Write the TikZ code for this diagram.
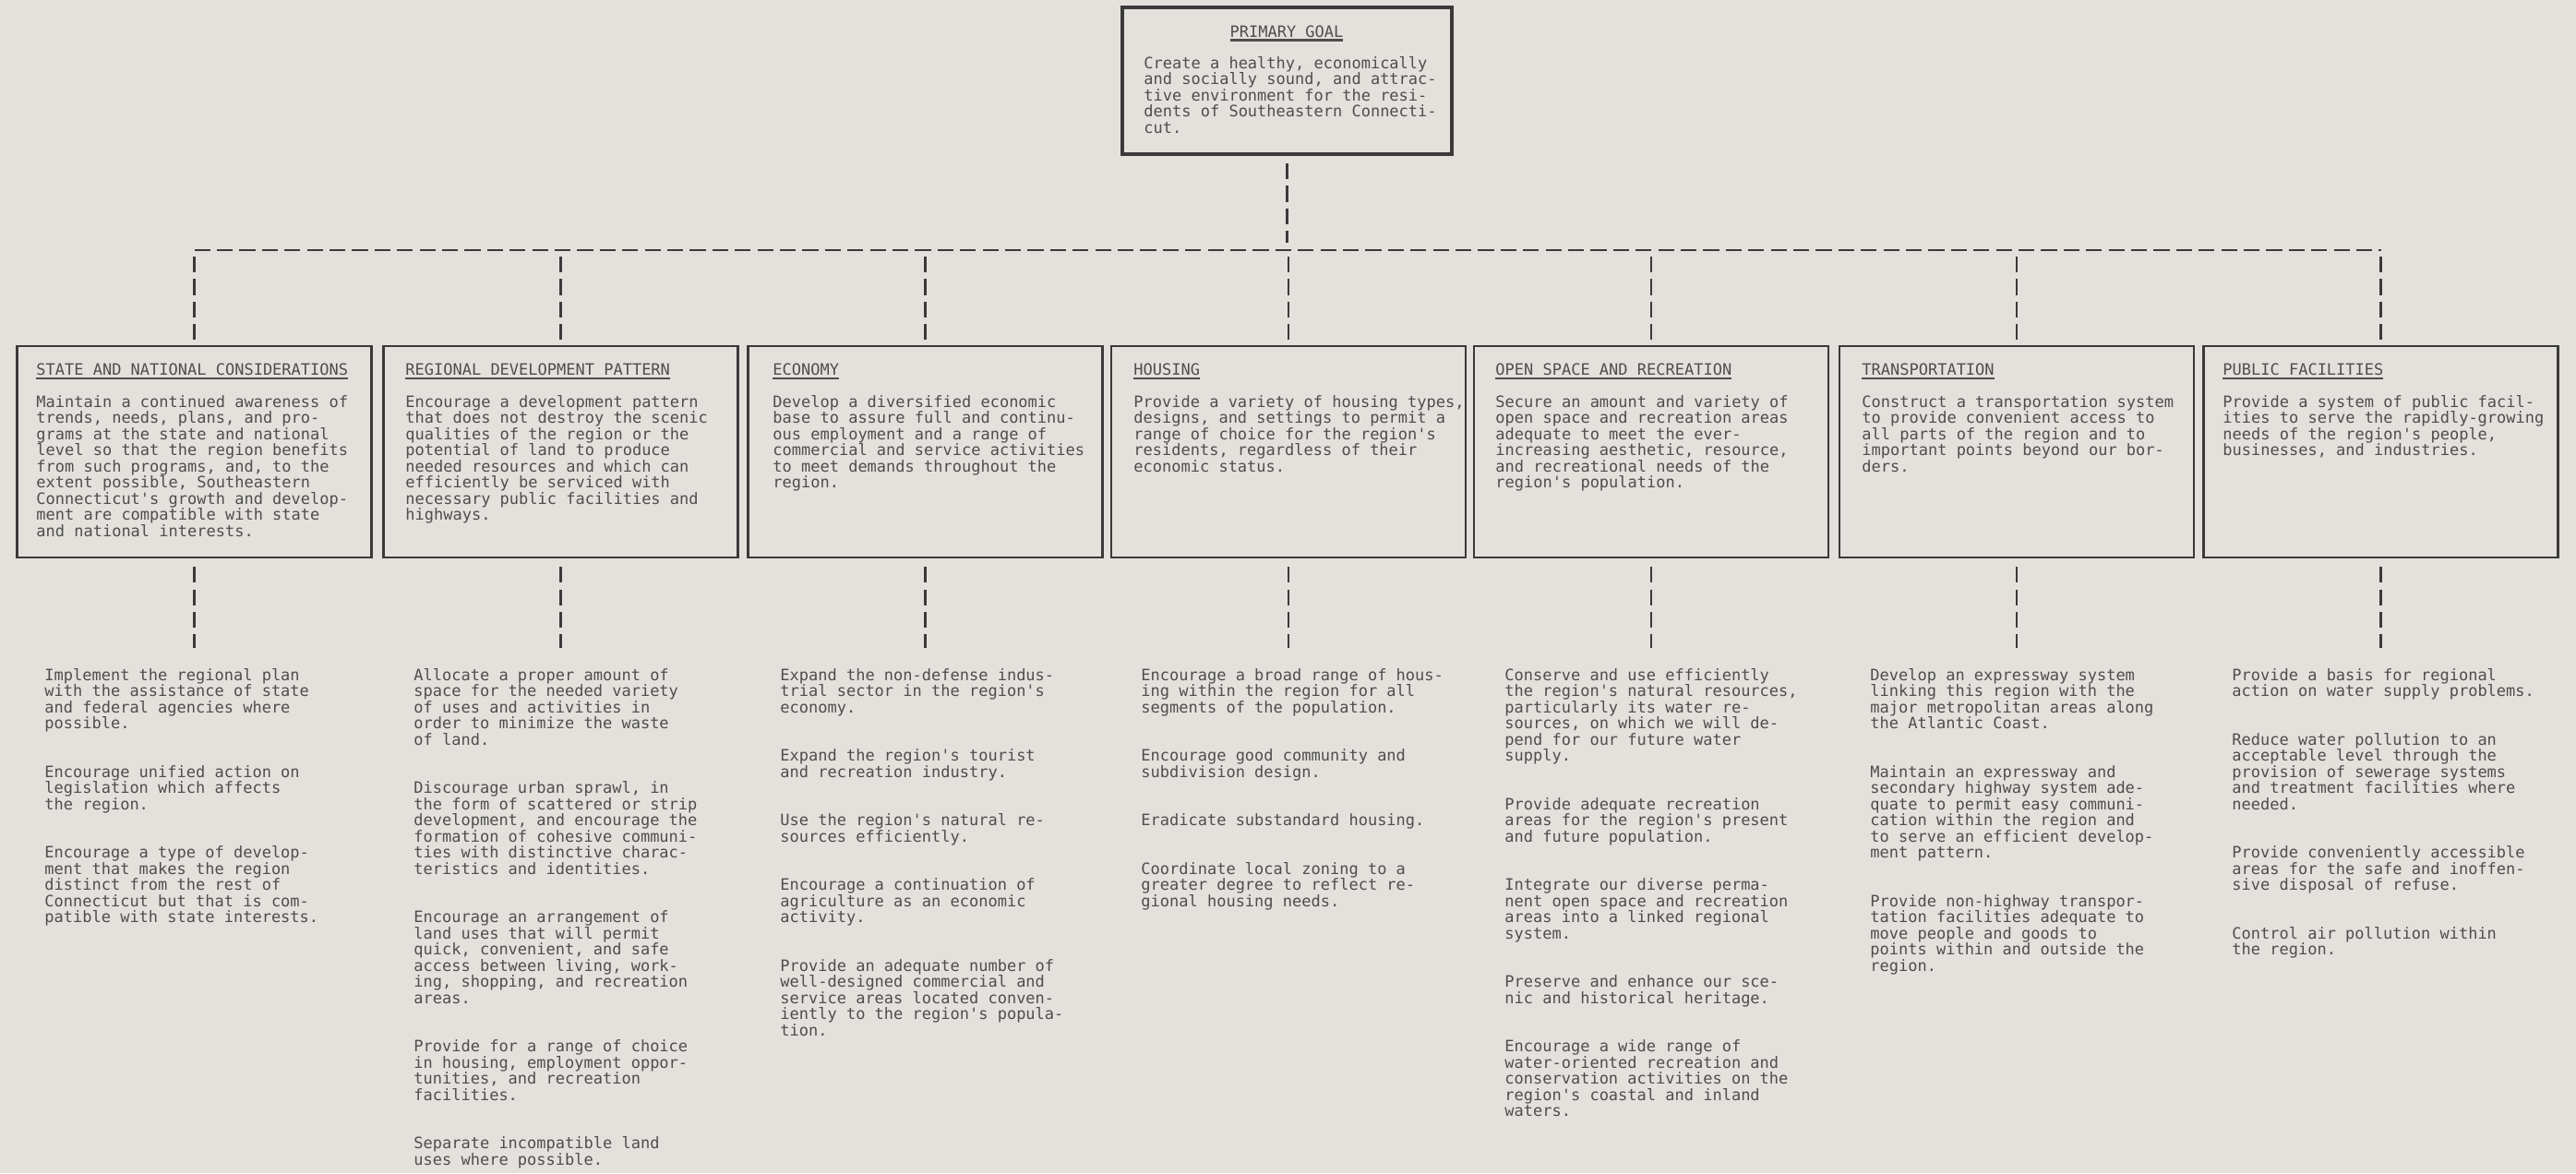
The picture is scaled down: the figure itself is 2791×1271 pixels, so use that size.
\documentclass[tikz,border=0pt]{standalone}
\usepackage{fontspec}
\setmonofont{DejaVu Sans Mono}
\definecolor{paper}{HTML}{E4E1DD}
\definecolor{ink}{HTML}{4E4E4E}
\definecolor{rulec}{HTML}{3A3A3A}
\newcommand\uln[1]{\setbox0\hbox{#1}\rlap{\smash{\rule[-2.3pt]{\wd0}{1.1pt}}}\box0}
\newcommand\fst{\rule{0pt}{7pt}}
\newcommand\twfont{\ttfamily\fontsize{8.5pt}{8.75pt}\selectfont\lineskiplimit=-20pt\lineskip=0pt}
\tikzset{
  tx/.style={inner sep=0pt, anchor=north west, align=left, text=ink, font=\twfont},
  catbox/.style={draw=rulec, line width=1.1pt, minimum width=192pt, minimum height=114.5pt, inner sep=0pt},
  goalbox/.style={draw=rulec, line width=1.9pt, minimum width=178.5pt, minimum height=79.5pt, inner sep=0pt},
  link/.style={draw=rulec, line width=1.3pt, dash pattern=on 8.6pt off 3.6pt}
}
\begin{document}
\begin{tikzpicture}[x=0.5pt,y=-0.5pt]
\fill[paper] (0,0) rectangle (2791,1271);
\useasboundingbox (0,0) rectangle (2791,1271);

% primary goal
\node[goalbox] (goal) at (1394.5,87.5) {};
\node[tx, anchor=base] (gtitle) at (1394,40) {\uln{PRIMARY GOAL}};
\node[tx] (gbody) at (1239,60) {\fst Create a healthy, economically\\
and socially sound, and attrac-\\
tive environment for the resi-\\
dents of Southeastern Connecti-\\
cut.};

% category boxes
\node[catbox] (b1) at (210.5,489.5) {};
\node[catbox] (b2) at (607.5,489.5) {};
\node[catbox] (b3) at (1002.5,489.5) {};
\node[catbox] (b4) at (1396,489.5) {};
\node[catbox] (b5) at (1789,489.5) {};
\node[catbox] (b6) at (2185,489.5) {};
\node[catbox] (b7) at (2579.5,489.5) {};

\node[tx] (t1) at (39,392) {\fst\uln{STATE AND NATIONAL CONSIDERATIONS}\\[8.75pt]
Maintain a continued awareness of\\
trends, needs, plans, and pro-\\
grams at the state and national\\
level so that the region benefits\\
from such programs, and, to the\\
extent possible, Southeastern\\
Connecticut's growth and develop-\\
ment are compatible with state\\
and national interests.};

\node[tx] (t2) at (439,392) {\fst\uln{REGIONAL DEVELOPMENT PATTERN}\\[8.75pt]
Encourage a development pattern\\
that does not destroy the scenic\\
qualities of the region or the\\
potential of land to produce\\
needed resources and which can\\
efficiently be serviced with\\
necessary public facilities and\\
highways.};

\node[tx] (t3) at (837,392) {\fst\uln{ECONOMY}\\[8.75pt]
Develop a diversified economic\\
base to assure full and continu-\\
ous employment and a range of\\
commercial and service activities\\
to meet demands throughout the\\
region.};

\node[tx] (t4) at (1228,392) {\fst\uln{HOUSING}\\[8.75pt]
Provide a variety of housing types,\\
designs, and settings to permit a\\
range of choice for the region's\\
residents, regardless of their\\
economic status.};

\node[tx] (t5) at (1620,392) {\fst\uln{OPEN SPACE AND RECREATION}\\[8.75pt]
Secure an amount and variety of\\
open space and recreation areas\\
adequate to meet the ever-\\
increasing aesthetic, resource,\\
and recreational needs of the\\
region's population.};

\node[tx] (t6) at (2017,392) {\fst\uln{TRANSPORTATION}\\[8.75pt]
Construct a transportation system\\
to provide convenient access to\\
all parts of the region and to\\
important points beyond our bor-\\
ders.};

\node[tx] (t7) at (2408,392) {\fst\uln{PUBLIC FACILITIES}\\[8.75pt]
Provide a system of public facil-\\
ities to serve the rapidly-growing\\
needs of the region's people,\\
businesses, and industries.};

% lower columns
\node[tx] (c1) at (48,723) {\fst Implement the regional plan\\
with the assistance of state\\
and federal agencies where\\
possible.\\[17.5pt]
Encourage unified action on\\
legislation which affects\\
the region.\\[17.5pt]
Encourage a type of develop-\\
ment that makes the region\\
distinct from the rest of\\
Connecticut but that is com-\\
patible with state interests.};

\node[tx] (c2) at (448,723) {\fst Allocate a proper amount of\\
space for the needed variety\\
of uses and activities in\\
order to minimize the waste\\
of land.\\[17.5pt]
Discourage urban sprawl, in\\
the form of scattered or strip\\
development, and encourage the\\
formation of cohesive communi-\\
ties with distinctive charac-\\
teristics and identities.\\[17.5pt]
Encourage an arrangement of\\
land uses that will permit\\
quick, convenient, and safe\\
access between living, work-\\
ing, shopping, and recreation\\
areas.\\[17.5pt]
Provide for a range of choice\\
in housing, employment oppor-\\
tunities, and recreation\\
facilities.\\[17.5pt]
Separate incompatible land\\
uses where possible.};

\node[tx] (c3) at (845,723) {\fst Expand the non-defense indus-\\
trial sector in the region's\\
economy.\\[17.5pt]
Expand the region's tourist\\
and recreation industry.\\[17.5pt]
Use the region's natural re-\\
sources efficiently.\\[17.5pt]
Encourage a continuation of\\
agriculture as an economic\\
activity.\\[17.5pt]
Provide an adequate number of\\
well-designed commercial and\\
service areas located conven-\\
iently to the region's popula-\\
tion.};

\node[tx] (c4) at (1236,723) {\fst Encourage a broad range of hous-\\
ing within the region for all\\
segments of the population.\\[17.5pt]
Encourage good community and\\
subdivision design.\\[17.5pt]
Eradicate substandard housing.\\[17.5pt]
Coordinate local zoning to a\\
greater degree to reflect re-\\
gional housing needs.};

\node[tx] (c5) at (1630,723) {\fst Conserve and use efficiently\\
the region's natural resources,\\
particularly its water re-\\
sources, on which we will de-\\
pend for our future water\\
supply.\\[17.5pt]
Provide adequate recreation\\
areas for the region's present\\
and future population.\\[17.5pt]
Integrate our diverse perma-\\
nent open space and recreation\\
areas into a linked regional\\
system.\\[17.5pt]
Preserve and enhance our sce-\\
nic and historical heritage.\\[17.5pt]
Encourage a wide range of\\
water-oriented recreation and\\
conservation activities on the\\
region's coastal and inland\\
waters.};

\node[tx] (c6) at (2026,723) {\fst Develop an expressway system\\
linking this region with the\\
major metropolitan areas along\\
the Atlantic Coast.\\[17.5pt]
Maintain an expressway and\\
secondary highway system ade-\\
quate to permit easy communi-\\
cation within the region and\\
to serve an efficient develop-\\
ment pattern.\\[17.5pt]
Provide non-highway transpor-\\
tation facilities adequate to\\
move people and goods to\\
points within and outside the\\
region.};

\node[tx] (c7) at (2418,723) {\fst Provide a basis for regional\\
action on water supply problems.\\[17.5pt]
Reduce water pollution to an\\
acceptable level through the\\
provision of sewerage systems\\
and treatment facilities where\\
needed.\\[17.5pt]
Provide conveniently accessible\\
areas for the safe and inoffen-\\
sive disposal of refuse.\\[17.5pt]
Control air pollution within\\
the region.};

% connectors
\coordinate (hL) at (210.5,271);
\coordinate (hR) at (2579.5,271);
\draw[link] (hL) -- (hR);
\draw[link, shorten <=4pt, shorten >=4pt] (goal.south) -- (goal.south |- hL);
\foreach \i in {1,...,7} {
  \draw[link, shorten <=3.5pt, shorten >=3pt] (b\i.north |- hL) -- (b\i.north);
  \draw[link, shorten <=4.5pt, shorten >=10.5pt] (b\i.south) -- (b\i.south |- c\i.north);
}
\end{tikzpicture}
\end{document}
